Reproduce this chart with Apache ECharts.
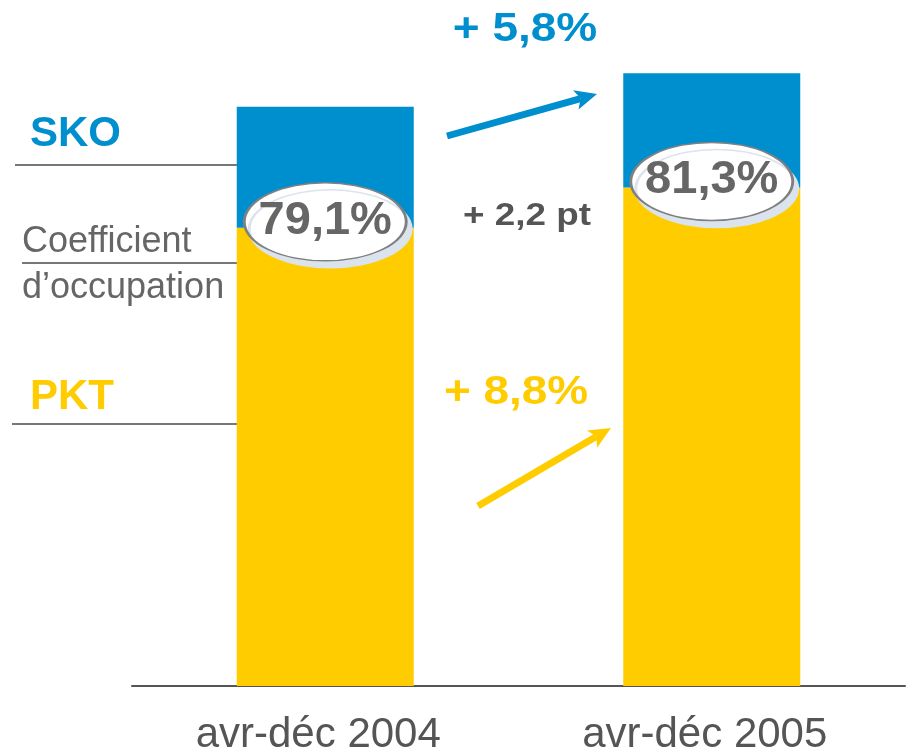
<!DOCTYPE html>
<html>
<head>
<meta charset="utf-8">
<script src="https://cdn.jsdelivr.net/npm/echarts@6/dist/echarts.min.js"></script>
<style>
    html, body { margin: 0; padding: 0; background: #fff; }
    #main { width: 911px; height: 756px; }
</style>
</head>
<body>
<div id="main"></div>
<script>
// data (SKO 2004 = 100)
const categories = ['avr-déc 2004', 'avr-déc 2005'];
const skoValues = [100, 105.8];
const pktValues = [79.1, 86.06];
const loadFactorLabels = ['79,1%', '81,3%'];

const BLUE = '#008fce';
const YELLOW = '#ffcc00';
const GREY = '#666666';
const FONT = '"Liberation Sans", Arial, sans-serif';

// blue part on top of the yellow one
const skoRest = skoValues.map((v, i) => +(v - pktValues[i]).toFixed(2));

// arrow made of a thick line and a head
function arrow(x1, y1, x2, y2, color) {
    const a = Math.atan2(y2 - y1, x2 - x1);
    const len = 22, half = 10;
    const bx = x2 - len * Math.cos(a), by = y2 - len * Math.sin(a);
    const nx = -Math.sin(a), ny = Math.cos(a);
    const notchX = x2 - (len - 5) * Math.cos(a), notchY = y2 - (len - 5) * Math.sin(a);
    return [
        {
            type: 'line',
            shape: { x1: x1, y1: y1, x2: notchX, y2: notchY },
            style: { stroke: color, lineWidth: 7 }
        },
        {
            type: 'polygon',
            shape: {
                points: [
                    [x2, y2],
                    [bx + nx * half, by + ny * half],
                    [notchX, notchY],
                    [bx - nx * half, by - ny * half]
                ]
            },
            style: { fill: color }
        }
    ];
}

function text(x, y, str, size, color, weight, align, sx) {
    return {
        type: 'text',
        x: x, y: y,
        scaleX: sx || 1,
        style: {
            text: str, fill: color, font: (weight || 'normal') + ' ' + size + 'px ' + FONT,
            align: align || 'left', verticalAlign: 'middle'
        }
    };
}

function hline(x1, x2, y) {
    return {
        type: 'line',
        shape: { x1: x1, y1: y, x2: x2, y2: y },
        style: { stroke: '#777', lineWidth: 2 }
    };
}

const option = {
    animation: false,
    grid: { left: 132, right: 6, top: 10, bottom: 69 },
    xAxis: {
        type: 'category',
        data: categories,
        axisTick: { show: false },
        axisLine: { lineStyle: { color: '#555', width: 2 } },
        axisLabel: {
            fontSize: 42, color: '#555', fontFamily: FONT,
            margin: 28, padding: [0, 14, 0, 0]
        }
    },
    yAxis: {
        type: 'value', min: 0, max: 116.7, show: false
    },
    series: [
        {
            name: 'PKT',
            type: 'bar',
            stack: 'total',
            barWidth: 177,
            data: pktValues,
            itemStyle: { color: YELLOW }
        },
        {
            name: 'SKO',
            type: 'bar',
            stack: 'total',
            barWidth: 177,
            data: skoRest,
            itemStyle: { color: BLUE }
        },
        {
            // load factor ovals sitting on the yellow top
            name: 'Coefficient',
            type: 'scatter',
            symbol: 'circle',
            symbolSize: [162, 78],
            symbolOffset: [0, -6],
            z: 5,
            data: pktValues.map((v, i) => [i, v]),
            itemStyle: {
                color: '#fff',
                opacity: 1,
                borderColor: '#808080',
                borderWidth: 2,
                shadowColor: '#dbe3ec',
                shadowBlur: 0,
                shadowOffsetX: 5,
                shadowOffsetY: 7
            },
            label: {
                show: true,
                position: 'inside',
                offset: [0, -1],
                formatter: p => loadFactorLabels[p.dataIndex],
                fontSize: 47,
                fontWeight: 'bold',
                color: GREY,
                fontFamily: FONT
            }
        }
    ],
    graphic: [
        text(30, 134, 'SKO', 42, BLUE, 'bold'),
        hline(15, 237, 165),
        text(22, 242, 'Coefficient', 36, GREY),
        hline(22, 237, 263),
        text(22, 288, 'd\u2019occupation', 36, GREY),
        text(30, 397, 'PKT', 42, YELLOW, 'bold'),
        hline(12, 237, 424),
        text(525, 30, '+ 5,8%', 40, BLUE, 'bold', 'center', 1.15),
        text(527, 216, '+ 2,2 pt', 32, '#555', 'bold', 'center', 1.15),
        text(516, 393, '+ 8,8%', 41, YELLOW, 'bold', 'center', 1.12)
    ].concat(arrow(447, 136, 597, 94, BLUE), arrow(478, 506, 611, 428, YELLOW))
};

let chart = echarts.init(document.querySelector('#main'));
chart.setOption(option);
</script>
</body>
</html>
